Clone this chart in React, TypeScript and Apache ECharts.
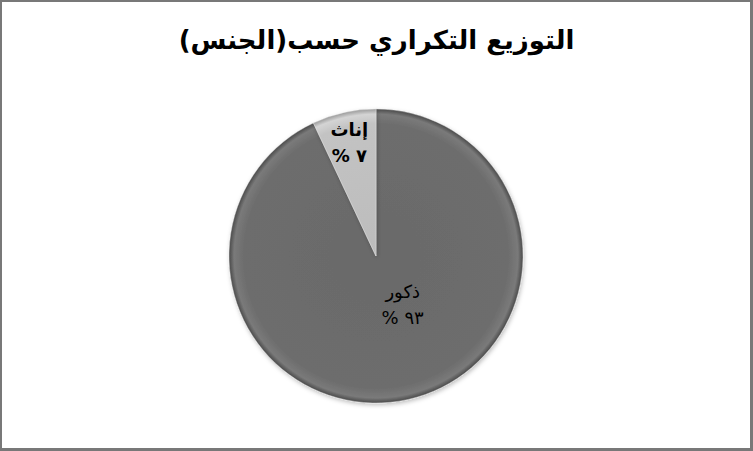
import { useEffect, useRef } from 'react';
import * as echarts from 'echarts';

const categories = ['ذكور', 'إناث'];
const shares = [93, 7];
const titleText = 'التوزيع التكراري حسب(الجنس)';

const toArabicDigits = (n: number) =>
  String(n).replace(/[0-9]/g, (d) => '٠١٢٣٤٥٦٧٨٩'[Number(d)]);

const CX = 376;
const CY = 256;
const R = 147;

export default function App() {
  const chartRef = useRef<HTMLDivElement>(null);

  useEffect(() => {
    if (!chartRef.current) return;
    const chart = echarts.init(chartRef.current, undefined, { renderer: 'svg' });

    // global gradients so both slices share the same rim shading
    const ring = (base: string, mid: string, rim: string, edge: string) =>
      new echarts.graphic.RadialGradient(CX, CY, R, [
        { offset: 0, color: base },
        { offset: 0.9, color: mid },
        { offset: 0.965, color: rim },
        { offset: 1, color: edge },
      ], true);
    const fills = [
      ring('#6a6a6a', '#6d6d6d', '#7a7a7a', '#4a4a4a'),
      ring('#bcbcbc', '#c3c3c3', '#d4d4d4', '#9a9a9a'),
    ];
    const weights = ['normal', 'bold'];

    chart.setOption({
      animation: false,
      backgroundColor: '#ffffff',
      title: {
        text: titleText,
        left: 'center',
        top: 22,
        textStyle: {
          fontFamily: 'DejaVu Sans',
          fontSize: 26,
          fontWeight: 'bold',
          color: '#000000',
        },
      },
      series: [
        {
          type: 'pie',
          center: [CX, CY],
          radius: R,
          startAngle: 90,
          clockwise: true,
          data: categories.map((name, i) => ({
            name,
            value: shares[i],
            itemStyle: { color: fills[i] },
            label: { fontWeight: weights[i] },
          })),
          itemStyle: {
            borderColor: 'rgba(225,225,225,0.55)',
            borderWidth: 0.8,
            shadowBlur: 4,
            shadowOffsetX: 1,
            shadowOffsetY: 2,
            shadowColor: 'rgba(0,0,0,0.25)',
          },
          label: {
            show: true,
            position: 'inside',
            formatter: (p: any) => `${p.name}\n% ${toArabicDigits(p.value)}`,
            fontFamily: 'DejaVu Sans',
            fontSize: 18,
            lineHeight: 26,
            color: '#000000',
          },
          labelLayout: (p: any) =>
            p.dataIndex === 0 ? { dx: 10, dy: -26 } : { dx: -10, dy: -39 },
          labelLine: { show: false },
          emphasis: { disabled: true },
        },
      ],
    });

    return () => chart.dispose();
  }, []);

  return (
    <div style={{ position: 'fixed', left: 0, top: 0, width: 753, height: 451, background: '#fff' }}>
      <div ref={chartRef} style={{ position: 'absolute', left: 0, top: 0, width: 753, height: 451 }} />
      <div
        style={{
          position: 'absolute',
          inset: 0,
          boxSizing: 'border-box',
          borderStyle: 'solid',
          borderColor: '#787878',
          borderWidth: '2px 3px 3px 2px',
          pointerEvents: 'none',
        }}
      />
    </div>
  );
}
